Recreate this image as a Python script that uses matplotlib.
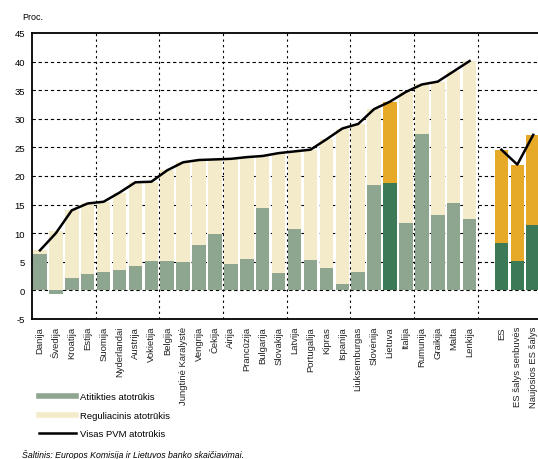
import matplotlib
matplotlib.use('Agg')
import matplotlib.pyplot as plt
from matplotlib.lines import Line2D
import numpy as np

plt.rcParams['font.family'] = ['Liberation Sans', 'DejaVu Sans']

# countries, ranked by total VAT gap
countries = ['Danija', 'Švedija', 'Kroatija', 'Estija', 'Suomija', 'Nyderlandai',
	'Austrija', 'Vokietija', 'Belgija', 'Jungtinė Karalystė', 'Vengrija', 'Čekija',
	'Airija', 'Prancūzija', 'Bulgarija', 'Slovakija', 'Latvija', 'Portugalija',
	'Kipras', 'Ispanija', 'Liuksemburgas', 'Slovėnija', 'Lietuva', 'Italija',
	'Rumunija', 'Graikija', 'Malta', 'Lenkija']
compliance = [6.3, -0.7, 2.2, 2.9, 3.2, 3.6, 4.3, 5.1, 5.1, 5.0, 7.9, 9.8,
	4.6, 5.5, 14.4, 3.0, 10.8, 5.4, 3.9, 1.2, 3.2, 18.4, 18.8, 11.7,
	27.4, 13.1, 15.2, 12.4]
policy = [0.7, 10.4, 11.8, 12.3, 12.3, 13.5, 14.6, 13.9, 15.9, 17.4, 14.9, 13.1,
	18.4, 17.8, 9.1, 21.0, 13.5, 19.2, 22.5, 27.1, 25.9, 13.3, 14.2, 23.0,
	8.6, 23.4, 23.1, 27.7]
total = [7.0, 10.0, 14.0, 15.2, 15.5, 17.1, 18.9, 19.0, 21.0, 22.4, 22.8, 22.9,
	23.0, 23.3, 23.5, 24.0, 24.3, 24.6, 26.4, 28.3, 29.1, 31.7, 33.0, 34.7,
	36.0, 36.5, 38.3, 40.1]

groups = ['ES', 'ES šalys senbuvės', 'Naujosios ES šalys']
group_compliance = [8.2, 5.1, 11.5]
group_policy = [16.4, 16.9, 15.7]
group_total = [24.6, 22.0, 27.2]

highlight = 'Lietuva'

legend_labels = ['Atitikties atotrūkis', 'Reguliacinis atotrūkis', 'Visas PVM atotrūkis']
yticks = [-5, 0, 5, 10, 15, 20, 25, 30, 35, 40, 45]

pale_green = '#8ea58f'
pale_cream = '#f4ebcb'
dark_green = '#3c7a57'
orange = '#e6a928'

x_c = np.arange(len(countries))
x_g = np.arange(len(groups)) + len(countries) + 1

fig = plt.figure(figsize=(5.38, 4.6), dpi=100)
ax = fig.add_axes([32 / 538, 1 - 320 / 460, 506 / 538, 286 / 460])

comp = np.array(compliance)
col_g = [dark_green if c == highlight else pale_green for c in countries]
col_p = [orange if c == highlight else pale_cream for c in countries]
ax.bar(x_c, comp, width=0.85, color=col_g, zorder=2)
ax.bar(x_c, policy, width=0.85, bottom=np.clip(comp, 0, None), color=col_p, zorder=2)
ax.plot(x_c, total, color='black', linewidth=1.8, zorder=3)

ax.bar(x_g, group_compliance, width=0.85, color=dark_green, zorder=2)
ax.bar(x_g, group_policy, width=0.85, bottom=group_compliance, color=orange, zorder=2)
ax.plot(x_g, group_total, color='black', linewidth=1.8, zorder=3)

# dashed grid
for y in yticks[1:-1]:
	ax.axhline(y, color='black', linewidth=0.8, linestyle=(0, (3, 2.5)), zorder=1)
for xv in np.arange(3.5, 32, 4):
	ax.axvline(xv, color='black', linewidth=0.8, linestyle=(0, (2, 3)), zorder=1)

ax.set_xlim(-0.5, 31.3)
ax.set_ylim(-5, 45)
ax.set_yticks(yticks)
ax.set_yticklabels([str(v) for v in yticks], fontsize=6.8)
ax.set_xticks(list(x_c) + list(x_g))
ax.set_xticklabels(countries + groups, rotation=90, fontsize=6.8, color='#222222')
ax.tick_params(axis='both', length=0)
ax.tick_params(axis='y', pad=5)
ax.tick_params(axis='x', pad=5)
for s in ['left', 'bottom', 'top']:
	ax.spines[s].set_linewidth(1.3)
ax.spines['right'].set_visible(False)

fig.text(22 / 538, 1 - 18 / 460, 'Proc.', fontsize=6.5, va='center')

handles = [Line2D([], [], color=pale_green, linewidth=4),
	Line2D([], [], color=pale_cream, linewidth=4),
	Line2D([], [], color='black', linewidth=1.8)]
fig.legend(handles, legend_labels, loc='upper left', bbox_to_anchor=(30 / 538, 1 - 385 / 460),
	frameon=False, fontsize=6.8, handlelength=4.0, labelspacing=1.0, handletextpad=0.4)

fig.text(22 / 538, 1 - 455 / 460, 'Šaltinis: Europos Komisija ir Lietuvos banko skaičiavimai.',
	fontsize=6.3, style='italic', va='center')

fig.savefig('out.png', dpi=100)
